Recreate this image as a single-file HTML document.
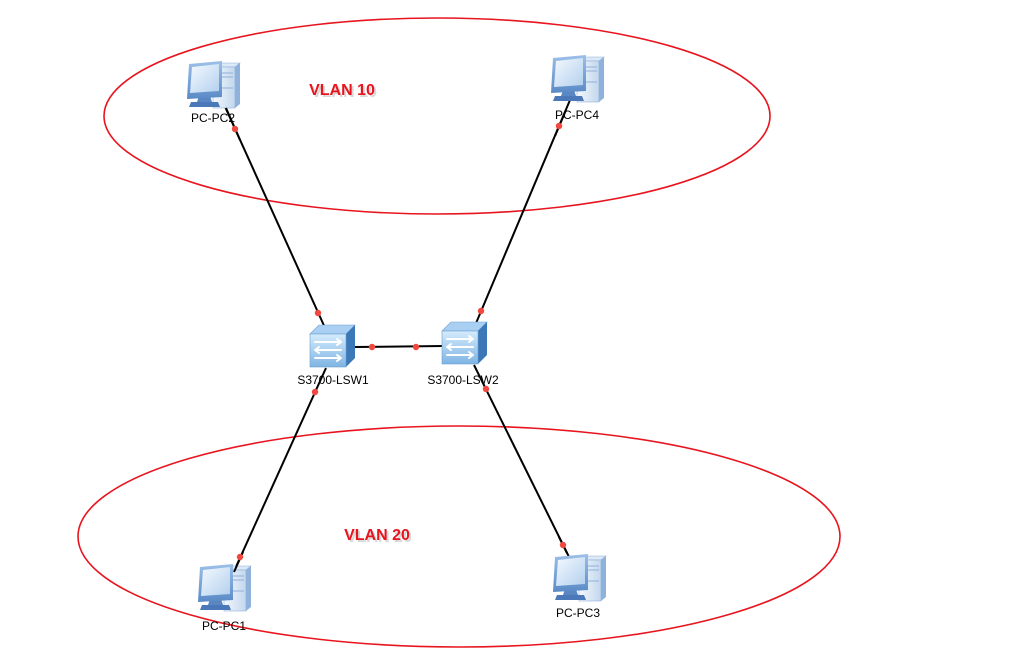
<!DOCTYPE html>
<html><head><meta charset="utf-8"><style>
html,body{margin:0;padding:0;background:#fff;}
svg{display:block;}
text{font-family:"Liberation Sans",sans-serif;}
</style></head><body>
<svg width="1018" height="655" viewBox="0 0 1018 655" xmlns="http://www.w3.org/2000/svg">
<defs>
<linearGradient id="scr" x1="0" y1="0" x2="1" y2="1"><stop offset="0" stop-color="#f4f9fe"/><stop offset="1" stop-color="#b3d0ee"/></linearGradient>
<linearGradient id="bez" x1="0" y1="0" x2="0" y2="1"><stop offset="0" stop-color="#9cc0e8"/><stop offset="1" stop-color="#5a8ac6"/></linearGradient>
<linearGradient id="tow" x1="0" y1="0" x2="1" y2="0"><stop offset="0" stop-color="#f3f8fd"/><stop offset="1" stop-color="#c3d7ee"/></linearGradient>
<linearGradient id="swf" x1="0" y1="0" x2="0" y2="1"><stop offset="0" stop-color="#d4ebfc"/><stop offset="1" stop-color="#7fb4e4"/></linearGradient>
<g id="pc">
  <!-- tower -->
  <polygon points="27,6 32,2 54,2 49,6" fill="#dce9f7" stroke="#8fb0d8" stroke-width="0.6"/>
  <polygon points="49,6 54,2 54,43 49,47" fill="#8fb2dc"/>
  <rect x="27" y="6" width="22" height="41" fill="url(#tow)" stroke="#8fb0d8" stroke-width="0.6"/>
  <line x1="32" y1="12" x2="47" y2="12" stroke="#8fb0d8" stroke-width="1"/>
  <line x1="32" y1="16" x2="47" y2="16" stroke="#8fb0d8" stroke-width="1"/>
  <line x1="32" y1="27" x2="47" y2="27" stroke="#8fb0d8" stroke-width="1"/>
  <!-- stand -->
  <polygon points="13,35 24,35 26,41 11,41" fill="#5a86c2"/>
  <polygon points="5,41 32,41 34,46 3,46" fill="#4a78b8"/>
  <!-- monitor -->
  <polygon points="3,3 36,0 36,36 1,38" fill="url(#bez)"/>
  <polygon points="6,6 33,3 33,30 4,32" fill="url(#scr)"/>
</g>
<g id="sw">
  <polygon points="0,9 9,0 45,0 36,9" fill="#a9d0f2" stroke="#6d9fd0" stroke-width="0.6"/>
  <polygon points="36,9 45,0 45,33 36,42" fill="#3c78b8"/>
  <rect x="0" y="9" width="36" height="33" fill="url(#swf)" stroke="#6d9fd0" stroke-width="0.6"/>
  <g stroke="#fff" stroke-width="2" fill="none" stroke-linecap="round" stroke-linejoin="round">
    <path d="M5,17 H31 M27,14 L31,17 L27,20"/>
    <path d="M31,25 H5 M9,22 L5,25 L9,28"/>
    <path d="M5,33 H31 M27,30 L31,33 L27,36"/>
  </g>
</g>
</defs>

<!-- ellipses -->
<ellipse cx="437" cy="116" rx="333" ry="98" fill="none" stroke="#e8141e" stroke-width="1.6"/>
<ellipse cx="459" cy="536.5" rx="381" ry="110.5" fill="none" stroke="#e8141e" stroke-width="1.6"/>

<!-- links -->
<g stroke="#000" stroke-width="2">
  <line x1="222" y1="100" x2="326" y2="330"/>
  <line x1="570" y1="100" x2="474" y2="328"/>
  <line x1="355" y1="347" x2="443" y2="346"/>
  <line x1="326" y1="368" x2="230" y2="580"/>
  <line x1="474" y1="365" x2="573" y2="565"/>
</g>

<!-- icons -->
<use href="#pc" x="186" y="61"/>
<use href="#pc" x="550" y="55"/>
<use href="#pc" x="197" y="564"/>
<use href="#pc" x="552" y="554"/>
<use href="#sw" x="310" y="325"/>
<use href="#sw" x="442" y="322"/>

<!-- link segments drawn over icons -->
<g stroke="#000" stroke-width="2">
  <line x1="226" y1="108" x2="240" y2="140"/>
  <line x1="566" y1="110" x2="555" y2="136"/>
  <line x1="243" y1="552" x2="234" y2="572"/>
  <line x1="559" y1="537" x2="567" y2="553"/>
</g>

<!-- port dots -->
<g fill="#f0483e">
  <circle cx="235" cy="129" r="3.2"/>
  <circle cx="318" cy="313" r="3.2"/>
  <circle cx="559" cy="126" r="3.2"/>
  <circle cx="481" cy="311" r="3.2"/>
  <circle cx="372" cy="347" r="3.2"/>
  <circle cx="416" cy="347" r="3.2"/>
  <circle cx="315" cy="392" r="3.2"/>
  <circle cx="240" cy="557" r="3.2"/>
  <circle cx="486" cy="389" r="3.2"/>
  <circle cx="563" cy="545" r="3.2"/>
</g>

<!-- labels -->
<g font-size="12" fill="#000" text-anchor="middle">
  <text x="213" y="122">PC-PC2</text>
  <text x="577" y="119">PC-PC4</text>
  <text x="224" y="630">PC-PC1</text>
  <text x="578" y="617">PC-PC3</text>
  <text x="333" y="384">S3700-LSW1</text>
  <text x="463" y="384">S3700-LSW2</text>
</g>
<g font-size="16" font-weight="bold" text-anchor="middle">
  <text x="343" y="96" fill="#d8d8d8" transform="translate(1,1)">VLAN 10</text>
  <text x="342" y="95" fill="#e8141e">VLAN 10</text>
  <text x="378" y="541" fill="#d8d8d8" transform="translate(1,1)">VLAN 20</text>
  <text x="377" y="540" fill="#e8141e">VLAN 20</text>
</g>
</svg>
</body></html>
